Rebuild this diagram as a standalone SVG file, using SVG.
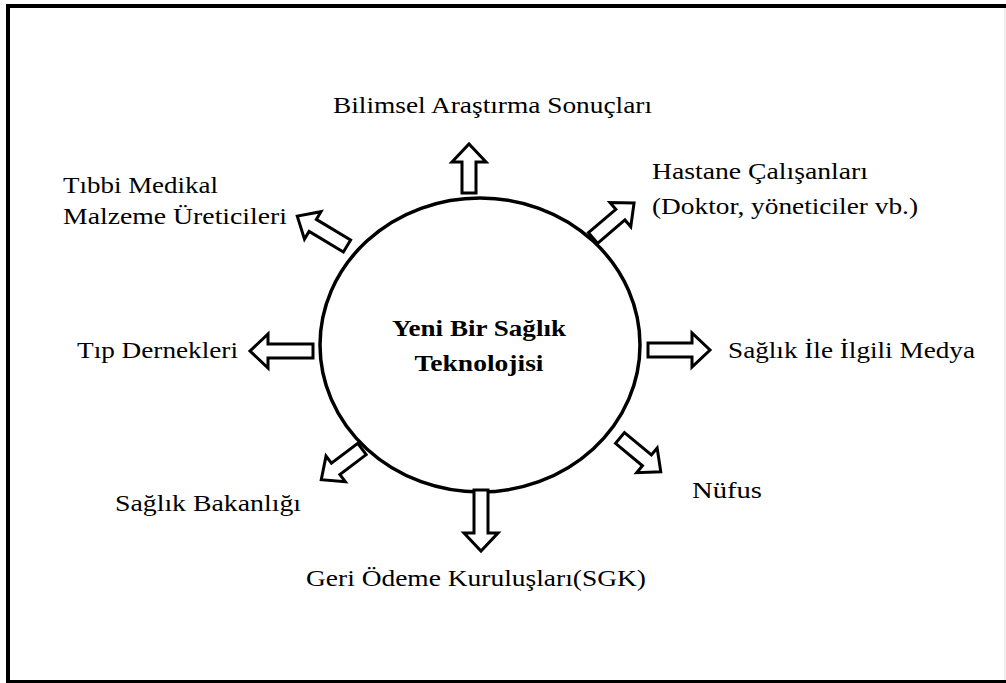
<svg xmlns="http://www.w3.org/2000/svg" width="1006" height="683" viewBox="0 0 1006 683">
  <style>
    .lbl { font-family: "Liberation Serif", "Times New Roman", serif; font-size: 24px; fill: #000; }
    .ctr { font-family: "Liberation Serif", "Times New Roman", serif; font-size: 23px; font-weight: bold; fill: #000; }
    .arr { fill: #fff; stroke: #000; stroke-width: 3; stroke-linejoin: miter; }
  </style>
  <rect width="1006" height="683" fill="#fff"/>
  <!-- outer frame -->
  <rect x="8" y="6" width="1000" height="676" fill="none" stroke="#000" stroke-width="4"/>
  <line x1="1005" y1="8" x2="1005" y2="680" stroke="#ddd" stroke-width="1"/>

  <g id="center">
    <ellipse cx="480" cy="345" rx="160" ry="147" fill="#fff" stroke="#000" stroke-width="3.5"/>
    <text class="ctr" x="479" y="336" text-anchor="middle" textLength="174" lengthAdjust="spacingAndGlyphs">Yeni Bir Sağlık</text>
    <text class="ctr" x="479" y="371" text-anchor="middle" textLength="129" lengthAdjust="spacingAndGlyphs">Teknolojisi</text>
  </g>

  <g id="connectors">
    <!-- block arrows: local +x direction, tail at 0 -->
    <path class="arr" transform="translate(469,193) rotate(-90)" d="M0,-7 H31 V-17 L49,0 L31,17 V7 H0 Z"/>
    <path class="arr" transform="translate(593,238) rotate(-40.5)" d="M0,-7 H36 V-16 L54,0 L36,16 V7 H0 Z"/>
    <path class="arr" transform="translate(648,350) rotate(0)" d="M0,-7 H44 V-17 L62,0 L44,17 V7 H0 Z"/>
    <path class="arr" transform="translate(620,438) rotate(39.7)" d="M0,-7 H35 V-16 L53,0 L35,16 V7 H0 Z"/>
    <path class="arr" transform="translate(481,490) rotate(90)" d="M0,-7 H43 V-17 L61,0 L43,17 V7 H0 Z"/>
    <path class="arr" transform="translate(362,449) rotate(143)" d="M0,-7 H33 V-16 L51,0 L33,16 V7 H0 Z"/>
    <path class="arr" transform="translate(313,351) rotate(180)" d="M0,-7 H45 V-17 L63,0 L45,17 V7 H0 Z"/>
    <path class="arr" transform="translate(347,246) rotate(211)" d="M0,-7 H40 V-16 L58,0 L40,16 V7 H0 Z"/>
  </g>

  <g id="n-bilimsel">
    <text class="lbl" x="333" y="113" textLength="319" lengthAdjust="spacingAndGlyphs">Bilimsel Araştırma Sonuçları</text>
  </g>
  <g id="n-hastane">
    <text class="lbl" x="652" y="179" textLength="216" lengthAdjust="spacingAndGlyphs">Hastane Çalışanları</text>
    <text class="lbl" x="652" y="214" textLength="266" lengthAdjust="spacingAndGlyphs">(Doktor, yöneticiler vb.)</text>
  </g>
  <g id="n-tibbi">
    <text class="lbl" x="63" y="193" textLength="155" lengthAdjust="spacingAndGlyphs">Tıbbi Medikal</text>
    <text class="lbl" x="63" y="224" textLength="224" lengthAdjust="spacingAndGlyphs">Malzeme Üreticileri</text>
  </g>
  <g id="n-tip">
    <text class="lbl" x="77" y="358" textLength="161" lengthAdjust="spacingAndGlyphs">Tıp Dernekleri</text>
  </g>
  <g id="n-medya">
    <text class="lbl" x="728" y="358" textLength="247" lengthAdjust="spacingAndGlyphs">Sağlık İle İlgili Medya</text>
  </g>
  <g id="n-nufus">
    <text class="lbl" x="692" y="498" textLength="70" lengthAdjust="spacingAndGlyphs">Nüfus</text>
  </g>
  <g id="n-bakanlik">
    <text class="lbl" x="115" y="511" textLength="186" lengthAdjust="spacingAndGlyphs">Sağlık Bakanlığı</text>
  </g>
  <g id="n-sgk">
    <text class="lbl" x="306" y="586" textLength="340" lengthAdjust="spacingAndGlyphs">Geri Ödeme Kuruluşları(SGK)</text>
  </g>
</svg>
